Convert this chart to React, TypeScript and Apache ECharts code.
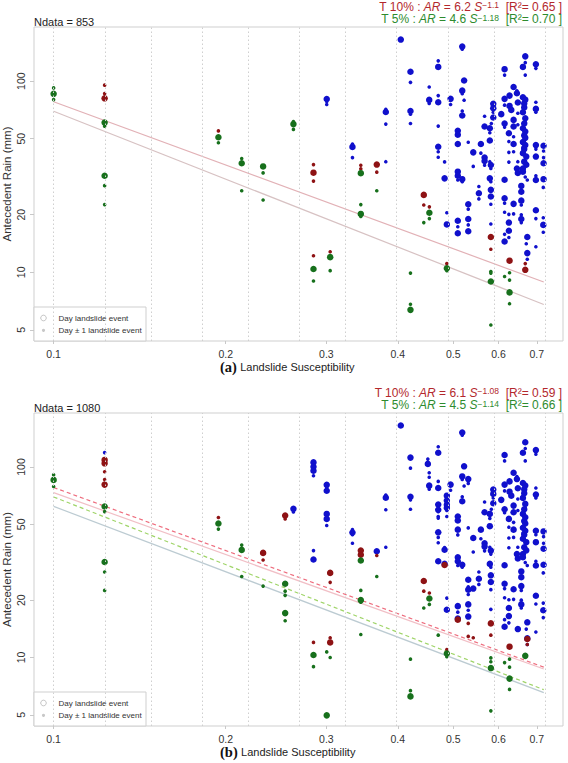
import { useEffect, useRef } from "react";
import * as echarts from "echarts";

// ---- axes ----
const X_RANGE = [0.0924, 0.778];
const Y_RANGE = [4.37, 192];
const X_TICKS = [0.1, 0.2, 0.3, 0.4, 0.5, 0.6, 0.7];
const Y_TICKS = [5, 10, 20, 50, 100];
// susceptibility class breaks (dotted verticals)
const SUSC_BREAKS = [0.1, 0.1218, 0.1484, 0.1808, 0.2202, 0.2682, 0.3267, 0.398, 0.4848, 0.5905, 0.7194];

// ---- thresholds AR = a * S^b ----
const T10_A = [6.2, -1.1];
const T5_A = [4.6, -1.18];
const T10_B = [6.1, -1.08];
const T5_B = [4.5, -1.14];
const R2_A = [0.65, 0.7];
const R2_B = [0.59, 0.66];
const NDATA = [853, 1080];
const FIT_SPAN = [0.1, 0.72];

// ---- panel (a): [susceptibility, antecedent rain mm] ----
const blueDayA = [
  [0.3004, 80.6], [0.3332, 45.3], [0.3811, 69.0], [0.4048, 165], [0.4209, 112], [0.4209, 69.8],
  [0.4539, 79.8], [0.4707, 118.7], [0.4707, 77.6], [0.4707, 45.4], [0.4829, 31.0], [0.4873, 17.8], [0.4947, 80.8],
  [0.5093, 55.0], [0.5093, 52.4], [0.5093, 46.9], [0.5093, 33.6], [0.5093, 32.0], [0.5093, 18.6], [0.5093, 16.0],
  [0.5185, 151.6], [0.5224, 100.8], [0.5185, 89.2], [0.5185, 66.1], [0.5185, 30.7],
  [0.5312, 22.7], [0.5312, 19.0], [0.5312, 16.4], [0.542, 42.4], [0.5544, 25.9],
  [0.5589, 46.9], [0.5673, 57.9], [0.5673, 39.8], [0.5673, 38.2],
  [0.5794, 56.7], [0.5794, 48.9], [0.5818, 36.4], [0.5794, 31.0], [0.5818, 27.0], [0.5818, 24.9],
  [0.5875, 76.1], [0.5875, 72.2], [0.5875, 64.5],
  [0.6067, 67.2], [0.6149, 115.5], [0.6149, 80.8], [0.6149, 60.0], [0.6149, 30.5], [0.6149, 24.4], [0.6149, 14.5],
  [0.6273, 84.0], [0.6273, 74.2], [0.6256, 53.4], [0.6256, 18.2], [0.6256, 16.5],
  [0.6376, 93.2], [0.6317, 70.7], [0.6376, 62.7], [0.6376, 57.9], [0.6376, 46.9], [0.6376, 22.8],
  [0.6462, 86.4], [0.6486, 77.3], [0.6462, 34.9], [0.6486, 33.1],
  [0.6577, 28.3], [0.6577, 26.4], [0.6577, 23.7], [0.6577, 19.0],
  [0.662, 118.7], [0.6683, 134.8], [0.662, 82.4], [0.6683, 80.0], [0.6655, 76.5], [0.6655, 72.9], [0.662, 68.8],
  [0.6683, 64.0], [0.6655, 60.0], [0.662, 56.7], [0.6683, 54.5], [0.6655, 52.0], [0.6683, 50.5], [0.662, 48.0],
  [0.6683, 46.3], [0.6655, 44.1], [0.662, 42.0], [0.671, 40.3], [0.6655, 37.9], [0.671, 36.5], [0.662, 34.9], [0.662, 33.6],
  [0.6738, 15.3], [0.6738, 12.6],
  [0.6975, 122.6], [0.6975, 71.6], [0.6975, 46.3], [0.6975, 40.3], [0.6975, 30.4], [0.6975, 21.1],
  [0.7194, 45.9], [0.7194, 37.2], [0.7194, 30.7], [0.7186, 17.7],
];
const blueAdjA = [
  [0.3004, 78.2], [0.3004, 75.5], [0.3332, 46.9], [0.3332, 39.8], [0.3811, 71.3], [0.3811, 59.6], [0.3811, 37.9],
  [0.4209, 98.6], [0.4209, 67.2], [0.4209, 60.0], [0.4539, 93.2], [0.4539, 76.5],
  [0.4707, 127.7], [0.4707, 84.0], [0.4707, 58.2], [0.4707, 42.7], [0.4707, 40.0], [0.4829, 37.8], [0.4873, 20.5], [0.4947, 75.5],
  [0.5093, 30.4], [0.5093, 17.3], [0.5185, 146.8], [0.5185, 85.9], [0.5224, 79.5], [0.5185, 69.8], [0.5185, 29.8],
  [0.5312, 47.9], [0.5312, 21.4], [0.5312, 17.7], [0.542, 35.8], [0.5544, 28.1], [0.5544, 24.2],
  [0.5589, 42.0], [0.5673, 65.5], [0.5673, 36.3], [0.5794, 53.7], [0.5794, 37.9], [0.5818, 34.9], [0.5818, 29.8], [0.5818, 22.7], [0.5818, 17.9],
  [0.5875, 68.8], [0.583, 60.0],
  [0.6149, 107.6], [0.6149, 74.9], [0.6149, 57.5], [0.6149, 23.0], [0.6149, 20.6], [0.6149, 15.8],
  [0.6256, 48.3], [0.6256, 42.4], [0.6256, 37.7], [0.6256, 20.1], [0.6256, 15.2],
  [0.6376, 92.2], [0.6376, 51.2], [0.6376, 42.7], [0.6376, 20.2],
  [0.6462, 89.0], [0.6486, 67.9], [0.6486, 59.1], [0.6486, 37.9],
  [0.6577, 22.5], [0.6577, 20.0], [0.6577, 18.2],
  [0.6683, 125.0], [0.6683, 107.6], [0.6683, 61.0], [0.662, 45.0], [0.6683, 31.5], [0.6738, 30.4], [0.671, 14.1], [0.6738, 11.7],
  [0.6975, 116.7], [0.6975, 77.6], [0.6975, 68.8], [0.6975, 44.1], [0.6975, 32.0], [0.6975, 19.1], [0.6975, 13.6],
  [0.7194, 43.1], [0.7194, 39.8], [0.7186, 27.8], [0.7186, 19.3], [0.7186, 16.2],
];
const redDayA = [[0.1228, 81.3], [0.2848, 33.2], [0.3675, 36.6], [0.4441, 25.4], [0.5818, 15.3], [0.6273, 11.5], [0.6683, 10.3]];
const redAdjA = [
  [0.1228, 95.3], [0.1228, 86.1], [0.1942, 54.9], [0.2848, 36.6], [0.2848, 30.0], [0.3446, 36.3], [0.3446, 34.8],
  [0.3675, 33.4], [0.2848, 12.2], [0.3046, 12.8], [0.4441, 22.5], [0.4542, 22.0], [0.4873, 11.1], [0.5818, 13.2], [0.6683, 11.1],
];
const greenDayA = [
  [0.1, 85.8], [0.1228, 60.7], [0.1228, 32.0], [0.1942, 50.9], [0.2133, 37.2], [0.2325, 35.8], [0.2627, 59.6], [0.2848, 10.4],
  [0.3046, 12.0], [0.3446, 33.0], [0.3446, 20.2], [0.4209, 6.36], [0.4542, 20.5], [0.4873, 10.5], [0.5818, 8.95], [0.6273, 7.85],
];
const greenAdjA = [
  [0.1, 92.2], [0.1, 80.1], [0.1228, 58.1], [0.1228, 28.4], [0.1228, 22.6], [0.1942, 47.6], [0.2133, 39.4], [0.2133, 26.7],
  [0.2325, 33.1], [0.2325, 23.9], [0.2627, 61.4], [0.2627, 55.9], [0.2848, 9.0], [0.3046, 10.2], [0.3446, 22.6], [0.3446, 19.6],
  [0.3675, 26.7], [0.4209, 9.9], [0.4209, 6.8], [0.4441, 18.2], [0.4542, 19.1], [0.4873, 10.2], [0.5818, 10.1], [0.5818, 9.9],
  [0.5818, 5.3], [0.6149, 9.5], [0.6273, 9.95], [0.6273, 9.1], [0.6273, 6.85],
];

// ---- panel (b): the (a) events plus the added ones ----
const blueDayExtraB = [
  [0.2627, 60.3], [0.2848, 105.7], [0.2848, 100.3], [0.2848, 95.6], [0.2848, 32.7], [0.3004, 75.0], [0.3004, 56.7], [0.3004, 53.4],
  [0.3675, 36.1], [0.4514, 103.8], [0.4707, 63.5], [0.4707, 59.6], [0.4707, 32.0], [0.4829, 36.8], [0.4873, 70.7], [0.4873, 66.6],
  [0.4873, 63.3], [0.4873, 61.0], [0.5312, 86.4], [0.5312, 25.6], [0.542, 23.0], [0.6486, 14.1],
];
const blueAdjExtraB = [
  [0.1228, 119], [0.2627, 58.0], [0.2848, 90.0], [0.2848, 36.4], [0.3004, 49.3], [0.3332, 44.1], [0.4514, 110], [0.4539, 88.3],
  [0.4707, 55.0], [0.4707, 53.9], [0.4873, 59.1], [0.4873, 55.0], [0.5312, 82.0], [0.5312, 23.5], [0.5093, 44.0],
];
const blueDayB = [...blueDayA, ...blueDayExtraB];
const blueAdjB = [...blueAdjA, ...blueAdjExtraB];
const redDayB = [
  [0.1228, 108.9], [0.1228, 104.5], [0.1228, 80.8], [0.2541, 55.6], [0.2325, 35.4], [0.3046, 27.8], [0.3046, 12.0], [0.3446, 36.4],
  [0.3446, 34.6], [0.4441, 25.2], [0.4829, 30.6], [0.5093, 15.8], [0.5818, 15.1], [0.6273, 11.4], [0.6738, 12.5],
];
const redAdjB = [
  [0.1228, 94.4], [0.1228, 85.9], [0.1942, 54.3], [0.2541, 53.4], [0.2325, 32.5], [0.2848, 12.0], [0.3046, 24.8], [0.3046, 12.7],
  [0.3675, 34.3], [0.4441, 22.3], [0.4542, 21.8], [0.4873, 11.0], [0.5312, 15.1], [0.5312, 12.9], [0.542, 12.7], [0.5818, 13.1], [0.6738, 11.7],
];
const greenDayB = [
  [0.1, 85.5], [0.1228, 62.0], [0.1228, 31.7], [0.1942, 50.5], [0.2133, 36.7], [0.2541, 24.4], [0.2541, 17.1], [0.2848, 10.3],
  [0.3004, 4.97], [0.3446, 32.3], [0.3446, 20.0], [0.4209, 6.25], [0.4542, 20.4], [0.4873, 10.5], [0.5818, 8.8], [0.6273, 7.75], [0.6683, 10.2],
];
const greenAdjB = [
  [0.1, 91.0], [0.1, 79.0], [0.1228, 58.3], [0.1228, 28.1], [0.1228, 22.5], [0.1942, 47.2], [0.2133, 38.9], [0.2133, 26.6],
  [0.2325, 23.7], [0.2541, 22.3], [0.2541, 21.2], [0.2541, 15.6], [0.2848, 8.95], [0.3004, 10.7], [0.3046, 10.0], [0.3446, 22.5],
  [0.3446, 19.5], [0.3446, 13.2], [0.3675, 26.6], [0.4209, 9.8], [0.4209, 6.7], [0.4441, 18.2], [0.4542, 19.0], [0.4707, 13.1],
  [0.4873, 10.1], [0.5818, 9.95], [0.5818, 9.5], [0.5818, 5.25], [0.6149, 9.4], [0.6273, 9.8], [0.6273, 8.9], [0.6273, 6.8],
];

const SANS = '"Liberation Sans", Arial, Helvetica, sans-serif';
const SERIF = '"Liberation Serif", "Times New Roman", serif';
const BLUE = "#1010cc";
const RED = "#8e1214";
const GREEN = "#17701c";
const TXT_RED = "#b3282d";
const TXT_GREEN = "#2e8b2e";
const BIG = 6.5;
const SMALL = 3.6;

const lg = Math.log10;
const toXY = (arr: number[][]) => arr.map(([s, r]) => [lg(s), lg(r)]);
const fitLine = ([a, b]: number[]) => FIT_SPAN.map((s) => [lg(s), lg(a * Math.pow(s, b))]);
const expText = (b: number) => String(b).replace("-", "\u2212");

const PANELS = [
  {
    tag: "a", top: 27, height: 314, n: NDATA[0],
    blueDay: blueDayA, blueAdj: blueAdjA, redDay: redDayA, redAdj: redAdjA, greenDay: greenDayA, greenAdj: greenAdjA,
    t10: T10_A, t5: T5_A, r2: R2_A,
    lines: [
      { fit: T10_A, color: "#e2b1b6", type: "solid" },
      { fit: T5_A, color: "#d7c2c3", type: "solid" },
    ],
  },
  {
    tag: "b", top: 413, height: 313, n: NDATA[1],
    blueDay: blueDayB, blueAdj: blueAdjB, redDay: redDayB, redAdj: redAdjB, greenDay: greenDayB, greenAdj: greenAdjB,
    t10: T10_B, t5: T5_B, r2: R2_B,
    lines: [
      { fit: T10_B, color: "#f1bfc6", type: "solid" },
      { fit: T5_B, color: "#bccbd2", type: "solid" },
      { fit: T10_A, color: "#ee6d7e", type: [4, 3] },
      { fit: T5_A, color: "#9fd468", type: [4, 3] },
    ],
  },
];

function formulaText(label: string, fit: number[], r2: number) {
  return `{n|${label} : }{i|AR}{n| = ${fit[0]} }{i|S}{s|${expText(fit[1])}}{n|  [R\u00b2= ${r2.toFixed(2)} ]}`;
}

function richFor(color: string) {
  return {
    n: { fontSize: 12, fontFamily: SANS, fill: color, lineHeight: 12 },
    i: { fontSize: 12, fontFamily: SANS, fontStyle: "italic", fill: color, lineHeight: 12 },
    s: { fontSize: 8.5, fontFamily: SANS, fill: color, lineHeight: 7, verticalAlign: "top" },
  };
}

function buildOption() {
  const grid: any[] = [];
  const xAxis: any[] = [];
  const yAxis: any[] = [];
  const series: any[] = [];
  const graphic: any[] = [];

  PANELS.forEach((p, i) => {
    grid.push({
      left: 34, width: 529, top: p.top, height: p.height, show: true, borderColor: "#cfcfcf", borderWidth: 1,
      containLabel: false, outerBoundsMode: "none",
    });
    xAxis.push({
      type: "value", gridIndex: i, min: lg(X_RANGE[0]), max: lg(X_RANGE[1]),
      axisLine: { show: false }, splitLine: { show: false },
      axisTick: { show: true, customValues: X_TICKS.map(lg), length: 3, lineStyle: { color: "#c8c8c8" } },
      axisLabel: {
        customValues: X_TICKS.map(lg), formatter: (v: number) => Math.pow(10, v).toFixed(1),
        fontSize: 10.5, color: "#333", margin: 7, fontFamily: SANS,
      },
    });
    yAxis.push({
      type: "value", gridIndex: i, min: lg(Y_RANGE[0]), max: lg(Y_RANGE[1]),
      axisLine: { show: false }, splitLine: { show: false },
      axisTick: { show: true, customValues: Y_TICKS.map(lg), length: 4, lineStyle: { color: "#c8c8c8" } },
      // tick labels are drawn upright-rotated below, placed through convertToPixel
      axisLabel: { show: false },
      name: "Antecedent Rain (mm)", nameLocation: "middle", nameGap: 21, nameMoveOverlap: false,
      nameTextStyle: { fontSize: 11.5, color: "#333", fontFamily: SANS },
    });

    // dotted class breaks
    series.push({
      type: "scatter", xAxisIndex: i, yAxisIndex: i, data: [], silent: true, z: 1,
      markLine: {
        silent: true, symbol: "none", label: { show: false },
        lineStyle: { type: [1.5, 2.5], color: "#cfcfcf", width: 1 },
        data: SUSC_BREAKS.map((b) => ({ xAxis: lg(b) })),
      },
    });
    // threshold lines
    p.lines.forEach((ln) => {
      series.push({
        type: "line", xAxisIndex: i, yAxisIndex: i, data: fitLine(ln.fit), showSymbol: false, silent: true, z: 2,
        lineStyle: { color: ln.color, width: 1.2, type: ln.type },
      });
    });
    const pts = (data: number[][], color: string, size: number) => ({
      type: "scatter", xAxisIndex: i, yAxisIndex: i, data: toXY(data), symbolSize: size, silent: true, z: 3,
      itemStyle: { color, opacity: 1 },
    });
    series.push(pts(p.blueDay, BLUE, BIG), pts(p.blueAdj, BLUE, SMALL));
    series.push(pts(p.redDay, RED, BIG), pts(p.redAdj, RED, SMALL));
    series.push(pts(p.greenDay, GREEN, BIG), pts(p.greenAdj, GREEN, SMALL));

    const top = p.top;
    const bottom = p.top + p.height;
    graphic.push(
      { type: "text", x: 34, y: top - 5, z: 10, style: { text: `Ndata = ${p.n}`, fontSize: 11, fontFamily: SANS, fill: "#222", verticalAlign: "middle" } },
      { type: "text", x: 562, y: top - 20.5, z: 10, style: { text: formulaText("T 10%", p.t10, p.r2[0]), rich: richFor(TXT_RED), align: "right", verticalAlign: "middle" } },
      { type: "text", x: 562, y: top - 8, z: 10, style: { text: formulaText("T 5%", p.t5, p.r2[1]), rich: richFor(TXT_GREEN), align: "right", verticalAlign: "middle" } },
      {
        type: "text", x: 220, y: bottom + 25.5, z: 10,
        style: {
          text: `{b|(${p.tag})} {t|Landslide Susceptibility}`, align: "left", verticalAlign: "middle",
          rich: {
            b: { fontSize: 14.5, fontWeight: "bold", fontFamily: SERIF, fill: "#111" },
            t: { fontSize: 11, fontFamily: SANS, fill: "#222" },
          },
        },
      },
      // legend box
      {
        type: "group", z: 20,
        children: [
          { type: "rect", shape: { x: 34, y: bottom - 34, width: 112, height: 34 }, style: { fill: "#fff", stroke: "#cfcfcf", lineWidth: 1 } },
          { type: "circle", shape: { cx: 43.5, cy: bottom - 23, r: 2.8 }, style: { fill: "none", stroke: "#b5b5b5", lineWidth: 0.8 } },
          { type: "text", x: 58.5, y: bottom - 23, style: { text: "Day landslide event", fontSize: 8, fontFamily: SANS, fill: "#333", verticalAlign: "middle" } },
          { type: "circle", shape: { cx: 43.5, cy: bottom - 10.7, r: 1.6 }, style: { fill: "#c8c8c8" } },
          { type: "text", x: 58.5, y: bottom - 10.7, style: { text: "Day \u00b1 1 landslide event", fontSize: 8, fontFamily: SANS, fill: "#333", verticalAlign: "middle" } },
        ],
      }
    );
  });

  return {
    animation: false,
    backgroundColor: "#fff",
    textStyle: { fontFamily: SANS },
    grid, xAxis, yAxis, series, graphic,
  };
}

// Y tick labels, rotated to run along the axis, positioned from the axis scale
function yTickLabels(chart: echarts.ECharts) {
  const out: any[] = [];
  PANELS.forEach((_p, i) => {
    Y_TICKS.forEach((v) => {
      const pt = chart.convertToPixel({ gridIndex: i } as any, [lg(X_RANGE[0]), lg(v)]) as number[];
      if (!pt) return;
      out.push({
        type: "text", x: pt[0] - 13.5, y: pt[1], rotation: Math.PI / 2, z: 10,
        style: { text: String(v), fontSize: 10.5, fontFamily: SANS, fill: "#333", align: "center", verticalAlign: "middle" },
      });
    });
  });
  return out;
}

export default function App() {
  const ref = useRef<HTMLDivElement>(null);
  useEffect(() => {
    if (!ref.current) return;
    const chart = echarts.init(ref.current, null, { renderer: "svg" });
    const option = buildOption();
    chart.setOption(option as any);
    chart.setOption({ graphic: [...option.graphic, ...yTickLabels(chart)] } as any);
    return () => chart.dispose();
  }, []);
  return <div ref={ref} style={{ position: "absolute", left: 0, top: 0, width: 568, height: 763, background: "#fff" }} />;
}
